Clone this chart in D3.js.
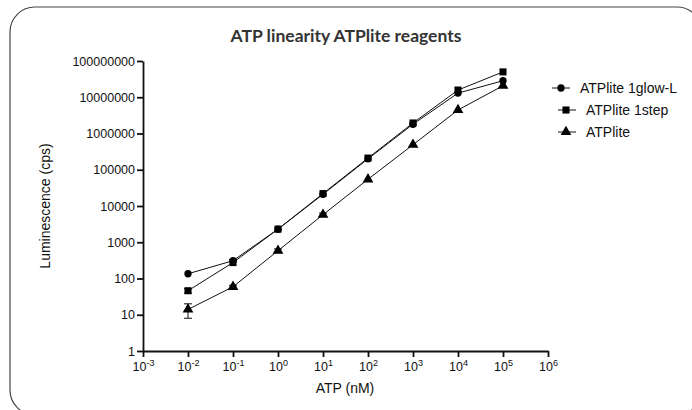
<!DOCTYPE html>
<html>
<head>
<meta charset="utf-8">
<script src="https://cdn.jsdelivr.net/npm/d3@7"></script>
<style>
  body { margin: 0; background: #fff; font-family: "Liberation Sans", Arial, Helvetica, sans-serif; }
  text { font-family: "Liberation Sans", Arial, Helvetica, sans-serif; fill: #111; }
</style>
</head>
<body>
<div id="chart"></div>
<script>
// ATP concentration (nM)
const atp = [0.01, 0.1, 1, 10, 100, 1000, 10000, 100000];

// luminescence (cps) per reagent, with error bar half-widths
const glowL = [135, 310, 2300, 21000, 200000, 1800000, 13000000, 28500000];
const glowLErr = [0, 20, 0, 0, 0, 0, 0, 0];
const oneStep = [46, 275, 2300, 22000, 210000, 1950000, 15800000, 50000000];
const oneStepErr = [6, 0, 0, 0, 0, 0, 0, 0];
const atplite = [14, 59, 585, 5750, 54600, 490000, 4450000, 20800000];
const atpliteErr = [6, 6, 70, 600, 0, 0, 0, 0];

const seriesNames = ["ATPlite 1glow-L", "ATPlite 1step", "ATPlite"];
const yTicks = [1, 10, 100, 1000, 10000, 100000, 1000000, 10000000, 100000000];
const xTicks = [-3, -2, -1, 0, 1, 2, 3, 4, 5, 6];

const width = 692, height = 410;
const fontAxis = "'Liberation Sans', Arial, Helvetica, sans-serif";

const svg = d3.select("#chart").append("svg")
    .attr("width", width)
    .attr("height", height);

// rounded frame that runs off the right/bottom edge
svg.append("rect")
    .attr("x", 10).attr("y", 7)
    .attr("width", 692).attr("height", 408)
    .attr("rx", 25).attr("ry", 25)
    .attr("fill", "none")
    .attr("stroke", "#444")
    .attr("stroke-width", 1.2);

const x = d3.scaleLog().domain([1e-3, 1e6]).range([143, 548]);
const y = d3.scaleLog().domain([1, 1e8]).range([351, 61]);

// title
svg.append("text")
    .attr("x", 346).attr("y", 42)
    .attr("text-anchor", "middle")
    .style("font-family", "Lato, 'Open Sans', sans-serif")
    .style("font-weight", "bold")
    .style("font-size", "17.5px")
    .style("fill", "#333")
    .text("ATP linearity ATPlite reagents");

// y axis
const yAxis = svg.append("g")
    .attr("transform", "translate(143,0)")
    .call(d3.axisLeft(y).tickValues(yTicks).tickFormat(d3.format("d")).tickSize(6).tickSizeOuter(0));
yAxis.attr("font-family", null);
yAxis.select(".domain").attr("stroke", "#111").attr("stroke-width", 1.8);
yAxis.selectAll(".tick line").attr("stroke", "#111").attr("stroke-width", 1.8);
yAxis.selectAll(".tick text").attr("x", -8).style("font-size", "12.5px")
    .style("font-family", fontAxis).attr("fill", "#111");

// x axis
const xAxis = svg.append("g")
    .attr("transform", "translate(0,351)")
    .call(d3.axisBottom(x).tickValues(xTicks.map(e => Math.pow(10, e))).tickFormat("").tickSize(6).tickSizeOuter(0));
xAxis.attr("font-family", null);
xAxis.select(".domain").attr("stroke", "#111").attr("stroke-width", 1.8);
xAxis.selectAll(".tick line").attr("stroke", "#111").attr("stroke-width", 1.8);
xAxis.selectAll(".tick").each(function(d, i) {
    const t = d3.select(this).append("text")
        .attr("y", 20)
        .attr("text-anchor", "middle")
        .style("font-size", "12.5px")
        .style("font-family", fontAxis)
        .attr("fill", "#111");
    t.append("tspan").text("10");
    t.append("tspan").attr("dy", -5).style("font-size", "9px").text(xTicks[i]);
});

// axis labels
svg.append("text")
    .attr("transform", "translate(50,206) rotate(-90)")
    .attr("text-anchor", "middle")
    .style("font-size", "14px")
    .style("font-family", fontAxis)
    .text("Luminescence (cps)");

svg.append("text")
    .attr("x", 345).attr("y", 393)
    .attr("text-anchor", "middle")
    .style("font-size", "14px")
    .style("font-family", fontAxis)
    .text("ATP (nM)");

const series = [
    { name: seriesNames[0], values: glowL, err: glowLErr, shape: d3.symbolCircle, size: 42 },
    { name: seriesNames[1], values: oneStep, err: oneStepErr, shape: d3.symbolSquare, size: 50 },
    { name: seriesNames[2], values: atplite, err: atpliteErr, shape: d3.symbolTriangle, size: 50 }
];

const line = d3.line()
    .x(d => x(d[0]))
    .y(d => y(d[1]));

series.forEach(s => {
    const pts = atp.map((a, i) => [a, s.values[i], s.err[i]]);
    const g = svg.append("g");

    g.append("path")
        .datum(pts)
        .attr("d", line)
        .attr("fill", "none")
        .attr("stroke", "#111")
        .attr("stroke-width", 1);

    // error bars
    g.selectAll(".err")
        .data(pts.filter(d => d[2] > 0))
        .join("g")
        .each(function(d) {
            const e = d3.select(this);
            const x0 = x(d[0]);
            const y1 = y(d[1] + d[2]), y2 = y(Math.max(d[1] - d[2], 1));
            e.append("line").attr("x1", x0).attr("x2", x0).attr("y1", y1).attr("y2", y2)
                .attr("stroke", "#111").attr("stroke-width", 1);
            [y1, y2].forEach(yy => e.append("line")
                .attr("x1", x0 - 4).attr("x2", x0 + 4).attr("y1", yy).attr("y2", yy)
                .attr("stroke", "#111").attr("stroke-width", 1));
        });

    g.selectAll(".pt")
        .data(pts)
        .join("path")
        .attr("transform", d => `translate(${x(d[0])},${y(d[1])})`)
        .attr("d", d3.symbol().type(s.shape).size(s.size))
        .attr("fill", "#000");
});

// legend
const legendRows = [
    { x1: 552, x2: 570, mx: 561, tx: 580, y: 88 },
    { x1: 558, x2: 576, mx: 566, tx: 586, y: 110 },
    { x1: 558, x2: 576, mx: 566, tx: 586, y: 132 }
];
series.forEach((s, i) => {
    const r = legendRows[i];
    svg.append("line")
        .attr("x1", r.x1).attr("x2", r.x2).attr("y1", r.y).attr("y2", r.y)
        .attr("stroke", "#111").attr("stroke-width", 1);
    svg.append("path")
        .attr("transform", `translate(${r.mx},${r.y})`)
        .attr("d", d3.symbol().type(s.shape).size(s.size))
        .attr("fill", "#000");
    svg.append("text")
        .attr("x", r.tx).attr("y", r.y + 5)
        .style("font-size", "14px")
        .style("font-family", fontAxis)
        .text(s.name);
});
</script>
</body>
</html>
